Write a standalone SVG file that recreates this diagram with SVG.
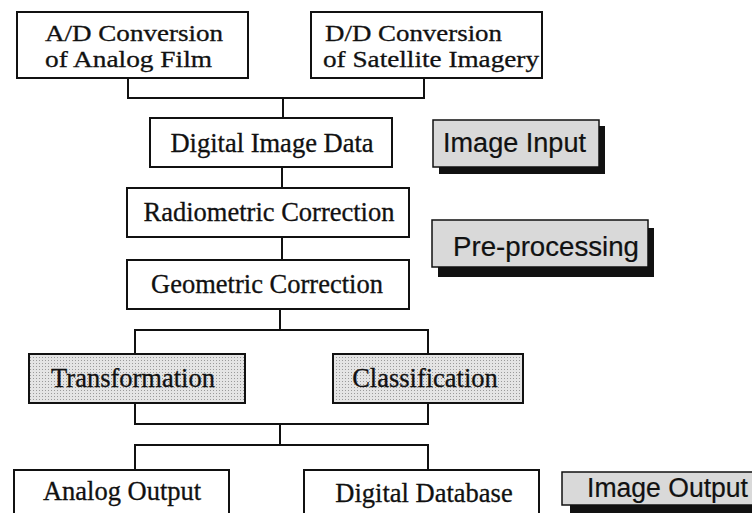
<svg xmlns="http://www.w3.org/2000/svg" width="752" height="513" viewBox="0 0 752 513">
<defs>
<pattern id="dots" width="3" height="3" patternUnits="userSpaceOnUse">
<rect width="3" height="3" fill="#e4e4e4"/>
<rect width="1" height="1" fill="#9a9a9a"/>
</pattern>
<style>
.box{fill:#fff;stroke:#111;stroke-width:2}
.shaded{fill:url(#dots);stroke:#111;stroke-width:2}
.label{fill:#d9d9d9;stroke:#111;stroke-width:1.5}
.shadow{fill:#111}
.serif{font-family:"Liberation Serif","Times New Roman",serif;font-size:26.5px;fill:#111;stroke:#111;stroke-width:0.3}
.two{font-size:23.5px}
.sans{font-family:"Liberation Sans",Arial,sans-serif;font-size:27px;fill:#111;stroke:#111;stroke-width:0.2}
.mid{text-anchor:middle}
.conn{fill:none;stroke:#111;stroke-width:2}
</style>
</defs>
<rect width="752" height="513" fill="#fff"/>
<g id="connectors">
<path class="conn" d="M128 78 V98 H424 V78"/>
<path class="conn" d="M283 98 V118"/>
<path class="conn" d="M282 167 V188"/>
<path class="conn" d="M282 237 V260"/>
<path class="conn" d="M280 309 V330"/>
<path class="conn" d="M135 354 V330 H428 V354"/>
<path class="conn" d="M135 403 V424 H428 V403"/>
<path class="conn" d="M280 424 V445"/>
<path class="conn" d="M135 470 V445 H428 V470"/>
</g>
<g id="ad-conversion">
<rect class="box" x="17" y="12" width="231" height="66"/>
<text class="serif two" x="45" y="41" textLength="178" lengthAdjust="spacingAndGlyphs">A/D Conversion</text>
<text class="serif two" x="45" y="67" textLength="167" lengthAdjust="spacingAndGlyphs">of Analog Film</text>
</g>
<g id="dd-conversion">
<rect class="box" x="311" y="12" width="231" height="66"/>
<text class="serif two" x="325" y="41" textLength="177" lengthAdjust="spacingAndGlyphs">D/D Conversion</text>
<text class="serif two" x="323" y="67" textLength="216" lengthAdjust="spacingAndGlyphs">of Satellite Imagery</text>
</g>
<g id="digital-image-data">
<rect class="box" x="150" y="118" width="242" height="49"/>
<text class="serif mid" x="272" y="152">Digital Image Data</text>
</g>
<g id="image-input">
<rect class="shadow" x="439" y="126" width="166" height="48"/>
<rect class="label" x="433" y="120" width="166" height="47"/>
<text class="sans" x="443" y="152" textLength="143" lengthAdjust="spacingAndGlyphs">Image Input</text>
</g>
<g id="radiometric-correction">
<rect class="box" x="127" y="188" width="282" height="49"/>
<text class="serif mid" x="269" y="221">Radiometric Correction</text>
</g>
<g id="pre-processing">
<rect class="shadow" x="438" y="228" width="216" height="49"/>
<rect class="label" x="432" y="220" width="216" height="47"/>
<text class="sans" x="453" y="256" textLength="186" lengthAdjust="spacingAndGlyphs">Pre-processing</text>
</g>
<g id="geometric-correction">
<rect class="box" x="127" y="260" width="282" height="49"/>
<text class="serif mid" x="267" y="293">Geometric Correction</text>
</g>
<g id="transformation">
<rect class="shaded" x="29" y="354" width="216" height="49"/>
<text class="serif mid" x="133" y="387">Transformation</text>
</g>
<g id="classification">
<rect class="shaded" x="333" y="354" width="190" height="49"/>
<text class="serif mid" x="425" y="387">Classification</text>
</g>
<g id="analog-output">
<rect class="box" x="14" y="470" width="215" height="60"/>
<text class="serif mid" x="122" y="500">Analog Output</text>
</g>
<g id="digital-database">
<rect class="box" x="304" y="470" width="235" height="60"/>
<text class="serif mid" x="424" y="502">Digital Database</text>
</g>
<g id="image-output">
<rect class="shadow" x="570" y="480" width="190" height="40"/>
<rect class="label" x="562" y="472" width="195" height="33"/>
<text class="sans" x="587" y="497" textLength="161" lengthAdjust="spacingAndGlyphs">Image Output</text>
</g>
</svg>
